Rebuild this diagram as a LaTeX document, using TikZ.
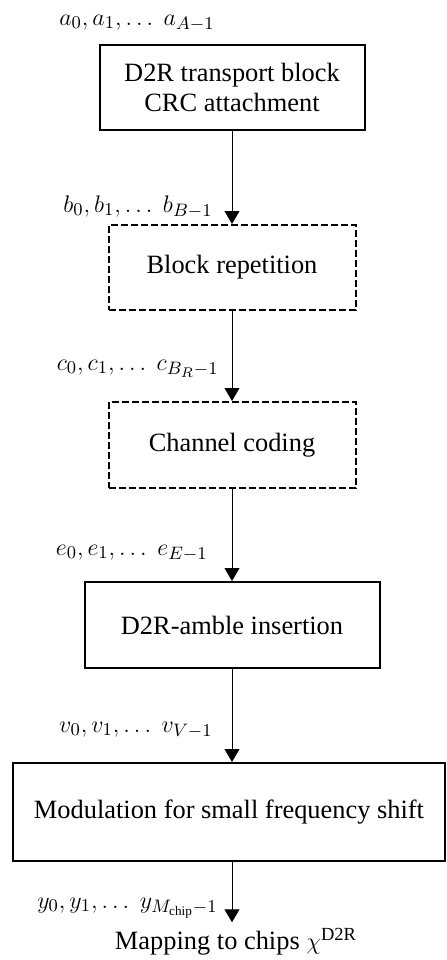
\documentclass[tikz,border=0pt]{standalone}
\usepackage{amsmath,tikz}
\usepackage{fontspec}
\setmainfont{LiberationSerif}[Extension=.ttf, UprightFont=*-Regular, BoldFont=*-Bold, ItalicFont=*-Italic]
\usetikzlibrary{positioning,arrows.meta}

\begin{document}
\begin{tikzpicture}[x=0.5pt,y=-0.5pt,
        font=\fontsize{13.2}{14.6}\selectfont,
        blockbox/.style={draw, rectangle, line width=1pt, align=center, minimum height=42.5pt},
        optbox/.style={blockbox, dash pattern=on 3.5pt off 1.5pt},
        seqlabel/.style={anchor=base east, inner sep=0pt},
        flow/.style={-{Triangle[length=6.5pt,width=7.5pt]}, line width=0.5pt}]
            \useasboundingbox (0,0) rectangle (446,960);

            \draw (232,87.5) node [blockbox, minimum width=132.5pt] (crc) {D2R transport block\\CRC attachment};
            \draw (232,267.5) node [optbox, minimum width=123.5pt] (rep) {Block repetition};
            \draw (232,445) node [optbox, minimum width=123.5pt, minimum height=43pt] (coding) {Channel coding};
            \draw (232,625) node [blockbox, minimum width=147.5pt, minimum height=43pt] (amble) {D2R-amble insertion};
            \draw (229,812) node [blockbox, minimum width=216pt, minimum height=49pt] (mod) {Modulation for small frequency shift};
            \draw (236,942) node [inner sep=3pt] (chips) {Mapping to chips $\chi^{\mathrm{D2R}}$};

            \draw (215,25) node [seqlabel] (seq a) {$a_0, a_1, \ldots\ a_{A-1}$};
            \draw (213,212) node [seqlabel] (seq b) {$b_0, b_1, \ldots\ b_{B-1}$};
            \draw (219,370) node [seqlabel] (seq c) {$c_0, c_1, \ldots\ c_{B_R-1}$};
            \draw (208,555) node [seqlabel] (seq e) {$e_0, e_1, \ldots\ e_{E-1}$};
            \draw (213,732) node [seqlabel] (seq v) {$v_0, v_1, \ldots\ v_{V-1}$};
            \draw (218,908) node [seqlabel] (seq y) {$y_0, y_1, \ldots\ y_{M_{\mathrm{chip}}-1}$};

            \draw[flow] (crc) -- (rep);
            \draw[flow] (rep) -- (coding);
            \draw[flow] (coding) -- (amble);
            \draw[flow] (amble) -- (amble |- mod.north);
            \draw[flow] (mod.south -| amble) -- (chips.north -| amble);
        \end{tikzpicture}
\end{document}
